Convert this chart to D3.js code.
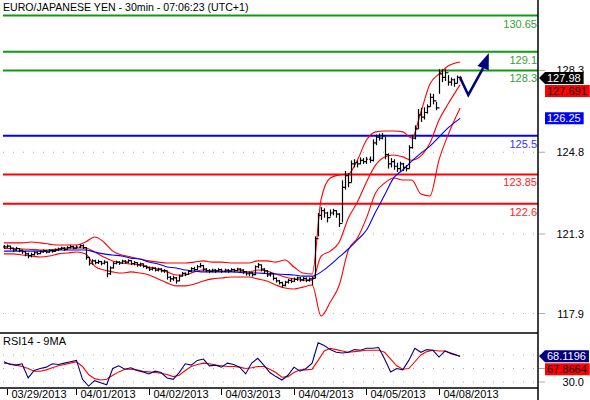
<!DOCTYPE html>
<html>
<head>
<meta charset="utf-8">
<title>EUR/JPY 30min</title>
<script src="https://cdn.jsdelivr.net/npm/d3@7/dist/d3.min.js"></script>
<style>
    body { margin: 0; background: #ffffff; }
    text { font-family: "Liberation Sans", Arial, sans-serif; font-size: 11px; }
</style>
</head>
<body>
<div id="chart"></div>
<script>
// hourly bars, last hour of 03/28 through 04/08 07:00 (index 0..151)
const barHigh = [120.83, 120.85, 120.80, 120.72, 120.75, 120.70, 120.64, 120.58, 120.50, 120.50,
    120.56, 120.55, 120.60, 120.64, 120.62, 120.66, 120.64, 120.68, 120.72, 120.76,
    120.74, 120.78, 120.84, 120.80, 120.82, 120.86, 120.86, 120.74, 120.32, 120.22,
    120.20, 120.20, 120.15, 120.18, 120.12, 119.92, 120.12, 120.16, 120.14, 120.20,
    120.18, 120.22, 120.18, 120.14, 120.10, 120.08, 120.04, 119.96, 119.90, 119.90,
    119.88, 119.86, 119.84, 119.80, 119.72, 119.50, 119.52, 119.46, 119.56, 119.68,
    119.66, 119.76, 119.88, 119.90, 119.98, 120.06, 119.98, 119.84, 119.80, 119.82,
    119.80, 119.84, 119.82, 119.82, 119.80, 119.84, 119.82, 119.86, 119.84, 119.80,
    119.72, 119.70, 119.68, 119.96, 120.06, 120.00, 119.84, 119.76, 119.68, 119.62,
    119.44, 119.34, 119.26, 119.30, 119.38, 119.40, 119.44, 119.48, 119.46, 119.46,
    119.44, 119.44, 119.48, 121.20, 122.20, 122.45, 122.40, 122.25, 122.35, 122.38,
    122.32, 122.20, 123.60, 124.00, 123.90, 124.45, 124.50, 124.45, 124.58, 124.55,
    124.60, 124.62, 125.35, 125.55, 125.60, 125.62, 125.45, 124.75, 124.55, 124.50,
    124.35, 124.40, 124.35, 124.25, 125.10, 125.55, 125.95, 126.65, 126.70, 126.72,
    126.85, 127.32, 127.30, 126.95, 128.35, 128.35, 128.35, 128.10, 128.00, 127.95,
    128.08, 128.05];
const barLow = [120.66, 120.70, 120.62, 120.55, 120.58, 120.52, 120.45, 120.35, 120.26, 120.30,
    120.38, 120.40, 120.44, 120.50, 120.47, 120.50, 120.50, 120.54, 120.58, 120.62,
    120.58, 120.62, 120.68, 120.64, 120.66, 120.70, 120.66, 120.20, 119.95, 119.98,
    120.00, 120.02, 119.96, 120.00, 119.45, 119.55, 119.82, 120.00, 119.98, 120.02,
    120.04, 120.04, 119.98, 119.96, 119.90, 119.90, 119.86, 119.80, 119.72, 119.74,
    119.70, 119.70, 119.66, 119.64, 119.35, 119.25, 119.30, 119.18, 119.28, 119.48,
    119.50, 119.55, 119.66, 119.70, 119.76, 119.86, 119.72, 119.66, 119.62, 119.66,
    119.64, 119.68, 119.64, 119.66, 119.64, 119.68, 119.66, 119.70, 119.68, 119.60,
    119.52, 119.50, 119.48, 119.54, 119.84, 119.70, 119.62, 119.46, 119.48, 119.32,
    119.22, 119.14, 119.02, 119.06, 119.18, 119.20, 119.24, 119.30, 119.26, 119.28,
    119.24, 119.26, 119.10, 119.40, 121.20, 121.90, 122.00, 121.80, 122.05, 122.10,
    122.00, 121.60, 121.80, 123.20, 123.30, 123.50, 124.15, 124.15, 124.28, 124.30,
    124.30, 124.35, 124.40, 125.10, 125.30, 125.35, 124.50, 124.10, 124.15, 124.05,
    123.95, 124.00, 124.00, 123.98, 124.10, 124.95, 125.35, 125.80, 126.10, 126.20,
    126.45, 126.75, 126.85, 126.60, 127.30, 127.80, 127.85, 127.65, 127.65, 127.60,
    127.75, 127.85];
const barClose = [120.75, 120.78, 120.70, 120.62, 120.68, 120.60, 120.55, 120.45, 120.38, 120.42,
    120.50, 120.46, 120.54, 120.58, 120.52, 120.60, 120.56, 120.62, 120.66, 120.70,
    120.64, 120.72, 120.76, 120.70, 120.74, 120.80, 120.72, 120.30, 120.05, 120.15,
    120.08, 120.12, 120.05, 120.10, 119.60, 119.85, 120.05, 120.10, 120.06, 120.14,
    120.10, 120.16, 120.04, 120.08, 119.98, 120.02, 119.92, 119.86, 119.80, 119.84,
    119.76, 119.80, 119.72, 119.74, 119.45, 119.38, 119.42, 119.30, 119.50, 119.62,
    119.58, 119.70, 119.82, 119.78, 119.90, 119.95, 119.80, 119.74, 119.70, 119.76,
    119.72, 119.78, 119.70, 119.76, 119.72, 119.78, 119.74, 119.80, 119.76, 119.68,
    119.60, 119.64, 119.56, 119.90, 119.98, 119.80, 119.72, 119.55, 119.60, 119.40,
    119.30, 119.22, 119.10, 119.24, 119.32, 119.28, 119.36, 119.42, 119.34, 119.40,
    119.32, 119.38, 119.40, 121.10, 122.10, 122.30, 122.20, 122.00, 122.20, 122.30,
    122.15, 121.75, 123.30, 123.80, 123.50, 124.30, 124.35, 124.30, 124.45, 124.40,
    124.50, 124.45, 125.20, 125.45, 125.40, 125.50, 124.70, 124.30, 124.40, 124.20,
    124.10, 124.30, 124.15, 124.10, 125.00, 125.40, 125.80, 126.40, 126.30, 126.50,
    126.75, 127.15, 127.00, 126.70, 128.15, 128.00, 128.20, 127.80, 127.90, 127.75,
    128.00, 127.98];

// bollinger bands and the blue moving average, read every 3 bars (+ last bar)
const bandUpper = [120.92, 120.92, 120.92, 120.96, 120.92, 120.87, 120.83, 120.83, 120.83, 120.96,
    121.17, 120.96, 120.57, 120.40, 120.32, 120.23, 120.15, 120.10, 120.06, 120.06,
    120.06, 120.10, 120.15, 120.10, 120.10, 120.06, 120.06, 120.06, 120.15, 120.15,
    120.10, 120.19, 119.89, 119.63, 119.59, 122.80, 123.70, 123.83, 123.87, 124.47,
    125.32, 125.67, 125.71, 125.71, 125.67, 125.41, 126.52, 127.72, 128.15, 128.49,
    128.66];
const bandMid = [120.68, 120.68, 120.66, 120.64, 120.62, 120.62, 120.66, 120.70, 120.70, 120.70,
    120.53, 120.32, 120.15, 120.06, 120.02, 119.98, 119.89, 119.80, 119.68, 119.55,
    119.55, 119.68, 119.76, 119.72, 119.72, 119.72, 119.72, 119.68, 119.76, 119.72,
    119.59, 119.46, 119.38, 119.33, 119.33, 120.36, 120.57, 120.96, 121.99, 122.67,
    123.53, 124.25, 124.60, 124.68, 124.60, 124.46, 124.64, 125.19, 126.18, 126.86,
    127.691];
const bandLower = [120.45, 120.45, 120.40, 120.36, 120.32, 120.36, 120.45, 120.49, 120.53, 120.45,
    119.93, 119.76, 119.68, 119.63, 119.68, 119.63, 119.55, 119.38, 119.21, 119.08,
    119.08, 119.16, 119.29, 119.38, 119.42, 119.46, 119.46, 119.46, 119.38, 119.29,
    119.12, 118.99, 118.95, 119.03, 119.12, 117.79, 118.39, 119.12, 120.62, 121.13,
    121.99, 123.06, 123.48, 123.70, 123.61, 123.61, 123.01, 122.93, 124.47, 125.54,
    126.69];
const maLine = [120.57, 120.57, 120.57, 120.57, 120.57, 120.57, 120.62, 120.62, 120.62, 120.62,
    120.53, 120.45, 120.40, 120.36, 120.27, 120.23, 120.10, 120.02, 119.89, 119.85,
    119.76, 119.72, 119.68, 119.68, 119.68, 119.68, 119.66, 119.63, 119.63, 119.61,
    119.59, 119.57, 119.55, 119.50, 119.50, 119.68, 119.98, 120.32, 120.66, 121.05,
    121.47, 122.24, 122.97, 123.70, 124.04, 124.42, 124.76, 125.06, 125.45, 125.84,
    126.25];

// RSI14 and its 9MA, read every 2 bars (+ last bar)
const rsiLine = [60, 56, 55, 57, 36, 47, 50, 52, 57, 56,
    58, 60, 62, 34, 24, 32, 29, 26, 50, 54,
    49, 51, 47, 45, 42, 46, 44, 36, 34, 44,
    57, 55, 62, 64, 54, 55, 52, 58, 56, 52,
    42, 58, 65, 55, 44, 38, 33, 40, 52, 46,
    50, 58, 88, 84, 78, 74, 73, 74, 78, 77,
    80, 80, 81, 64, 45, 50, 48, 62, 80, 74,
    78, 77, 67, 76, 72, 68.1196];
const rsiMa = [58, 57, 55, 53, 50, 46, 46, 48, 51, 54,
    56, 58, 60, 53, 41, 35, 33, 34, 40, 45,
    49, 49, 48, 46, 45, 44, 43, 41, 38, 40,
    47, 53, 56, 58, 57, 55, 54, 53, 53, 52,
    50, 51, 53, 53, 49, 44, 37, 38, 44, 48,
    48, 49, 62, 76, 80, 78, 76, 74, 75, 76,
    77, 77, 77, 74, 64, 54, 49, 50, 60, 70,
    75, 77, 76, 76, 73, 67.8664];

const dayLabels = ["03/29/2013", "04/01/2013", "04/02/2013", "04/03/2013", "04/04/2013", "04/05/2013", "04/08/2013"];
const dayStarts = [1, 24, 48, 72, 96, 120, 144];

const levelValues = [130.65, 129.1, 128.3, 125.5, 123.85, 122.6];
const levelLabels = ["130.65", "129.1", "128.3", "125.5", "123.85", "122.6"];
const levelKinds = ["target", "target", "target", "pivot", "support", "support"];

const priceTicks = [128.3, 124.8, 121.3, 117.9];
const rsiTicks = [70, 50, 30];

// drawn forecast arrow, as (bar index, price)
const arrowIdx = [151, 153.7, 158.6, 160.5];
const arrowVal = [127.98, 127.25, 128.40, 129.05];

const width = 590, height = 400;
const plotLeft = 3, plotRight = 538;
const mainBottom = 333, rsiBottom = 388;

let svg = d3.select("#chart").append("svg").attr("width", width).attr("height", height);

let x = d3.scaleLinear().domain([1, 144]).range([7, 439]);
let y = d3.scaleLinear().domain([117.9, 130.65]).range([313.5, 15.5]);
let yr = d3.scaleLinear().domain([30, 70]).range([382, 355]);

const bandIdx = d3.range(0, 148, 3).concat([151]);
const rsiIdx = d3.range(0, 150, 2).concat([151]);

let defs = svg.append("defs");
defs.append("clipPath").attr("id", "clipMain").append("rect")
    .attr("x", 0).attr("y", 0).attr("width", plotRight).attr("height", mainBottom);
defs.append("clipPath").attr("id", "clipRsi").append("rect")
    .attr("x", 0).attr("y", mainBottom).attr("width", plotRight).attr("height", rsiBottom - mainBottom);

// dotted grid
svg.append("g").selectAll("line").data(priceTicks).enter().append("line")
    .attr("x1", plotLeft).attr("x2", plotRight)
    .attr("y1", d => y(d)).attr("y2", d => y(d))
    .attr("stroke", "#aaaaaa").attr("stroke-dasharray", "1,9");
svg.append("g").selectAll("line").data(rsiTicks).enter().append("line")
    .attr("x1", plotLeft).attr("x2", plotRight)
    .attr("y1", d => yr(d)).attr("y2", d => yr(d))
    .attr("stroke", "#aaaaaa").attr("stroke-dasharray", "1,9");

// horizontal levels
const kindColor = { target: "#119911", pivot: "#0000ff", support: "#ff0000" };
const kindText = { target: "#33a033", pivot: "#3333ff", support: "#ff2222" };
let levels = svg.append("g");
levelValues.forEach((v, k) => {
    levels.append("line")
        .attr("x1", plotLeft).attr("x2", plotRight)
        .attr("y1", y(v)).attr("y2", y(v))
        .attr("stroke", kindColor[levelKinds[k]]).attr("stroke-width", 2);
    levels.append("text")
        .attr("x", plotRight - 1).attr("y", y(v) + 12)
        .attr("text-anchor", "end")
        .attr("fill", kindText[levelKinds[k]])
        .text(levelLabels[k]);
});

// bands and moving average
let main = svg.append("g").attr("clip-path", "url(#clipMain)");
let smooth = d3.line().x(d => x(d[0])).y(d => y(d[1])).curve(d3.curveMonotoneX);
[bandUpper, bandMid, bandLower].forEach(band => {
    main.append("path")
        .attr("d", smooth(bandIdx.map((i, k) => [i, band[k]])))
        .attr("fill", "none").attr("stroke", "#ff0000").attr("stroke-width", 1.1);
});
main.append("path")
    .attr("d", smooth(bandIdx.map((i, k) => [i, maLine[k]])))
    .attr("fill", "none").attr("stroke", "#0000ff").attr("stroke-width", 1.1);

// price bars
let bars = main.append("g").attr("stroke", "#000000").attr("stroke-width", 1.2);
barClose.forEach((c, i) => {
    let open = i == 0 ? c : barClose[i - 1];
    let bx = Math.round(x(i)) + 0.5;
    bars.append("line").attr("x1", bx).attr("x2", bx)
        .attr("y1", y(barHigh[i])).attr("y2", y(barLow[i]));
    bars.append("line").attr("x1", bx - 1.5).attr("x2", bx)
        .attr("y1", y(open)).attr("y2", y(open));
    bars.append("line").attr("x1", bx).attr("x2", bx + 1.5)
        .attr("y1", y(c)).attr("y2", y(c));
});

// forecast arrow
let arrowPts = arrowIdx.map((i, k) => [x(i), y(arrowVal[k])]);
svg.append("path")
    .attr("d", d3.line()(arrowPts.slice(0, 3)))
    .attr("fill", "none").attr("stroke", "#000080").attr("stroke-width", 2.5)
    .attr("stroke-linejoin", "miter");
let base = arrowPts[2], tip = arrowPts[3];
let len = Math.hypot(tip[0] - base[0], tip[1] - base[1]);
let px = -(tip[1] - base[1]) / len * 6, py = (tip[0] - base[0]) / len * 6;
svg.append("path")
    .attr("d", d3.line()([tip, [base[0] + px, base[1] + py], [base[0] - px, base[1] - py]]) + "Z")
    .attr("fill", "#000080");

// RSI panel
let rsiG = svg.append("g").attr("clip-path", "url(#clipRsi)");
let rsiPath = d3.line().x(d => x(d[0])).y(d => yr(d[1]));
rsiG.append("path")
    .attr("d", rsiPath(rsiIdx.map((i, k) => [i, rsiMa[k]])))
    .attr("fill", "none").attr("stroke", "#ff0000").attr("stroke-width", 1.1);
rsiG.append("path")
    .attr("d", rsiPath(rsiIdx.map((i, k) => [i, rsiLine[k]])))
    .attr("fill", "none").attr("stroke", "#000080").attr("stroke-width", 1.1);

// frame
svg.append("line").attr("x1", 0).attr("x2", plotRight).attr("y1", mainBottom).attr("y2", mainBottom)
    .attr("stroke", "#000").attr("stroke-width", 1.5);
svg.append("line").attr("x1", 0).attr("x2", plotRight).attr("y1", rsiBottom).attr("y2", rsiBottom)
    .attr("stroke", "#000").attr("stroke-width", 1.5);
svg.append("line").attr("x1", plotRight).attr("x2", plotRight).attr("y1", 0).attr("y2", height)
    .attr("stroke", "#000").attr("stroke-width", 1.5);

// date axis
let axisB = svg.append("g");
dayStarts.forEach((i, k) => {
    let tx = Math.round(x(i)) + 0.5;
    axisB.append("line").attr("x1", tx).attr("x2", tx).attr("y1", rsiBottom + 1).attr("y2", rsiBottom + 7)
        .attr("stroke", "#000");
    axisB.append("text").attr("x", tx + 4).attr("y", 398).text(dayLabels[k]);
});

// titles
svg.append("text").attr("x", 3).attr("y", 11).style("font-size", "10.6px")
    .text("EURO/JAPANESE YEN - 30min - 07:06:23 (UTC+1)");
svg.append("text").attr("x", 3).attr("y", 345).text("RSI14 - 9MA");

// last-value boxes on the right: work out where they sit first
function placeBoxes(items, scale) {
    let placed = items.map(d => Object.assign({}, d, { cy: scale(d.value) }));
    for (let k = 1; k < placed.length; k++) {
        if (placed[k].cy - placed[k - 1].cy < 13) placed[k].cy = placed[k - 1].cy + 13;
    }
    return placed;
}

let mainBoxes = placeBoxes([
    { value: barClose[barClose.length - 1], fill: "#000000", ink: "#ffffff", arrow: true },
    { value: bandMid[bandMid.length - 1], fill: "#ff0000", ink: "#000000", arrow: false },
    { value: maLine[maLine.length - 1], fill: "#0000ff", ink: "#ffffff", arrow: false }
], y);
let rsiBoxes = placeBoxes([
    { value: rsiLine[rsiLine.length - 1], fill: "#000080", ink: "#ffffff", arrow: true },
    { value: rsiMa[rsiMa.length - 1], fill: "#ff0000", ink: "#000000", arrow: false }
], yr);

// right axis ticks; a label that a value box sits right on top of is left out
let axisR = svg.append("g");
function rightTicks(ticks, scale, boxes) {
    ticks.forEach(v => {
        let ty = scale(v);
        axisR.append("line").attr("x1", plotRight + 1).attr("x2", plotRight + 7)
            .attr("y1", ty).attr("y2", ty).attr("stroke", "#aaaaaa");
        if (boxes.some(b => Math.abs(b.cy - ty) < 6)) return;
        axisR.append("text").attr("x", 584).attr("y", ty + 4)
            .attr("text-anchor", "end").text(v.toFixed(1));
    });
}
rightTicks(priceTicks, y, mainBoxes);
rightTicks(rsiTicks, yr, rsiBoxes);

function drawBoxes(placed) {
    placed.forEach(d => {
        let g = svg.append("g");
        let shape = g.append("path").attr("fill", d.fill);
        let t = g.append("text").attr("x", 547).attr("y", d.cy + 4)
            .attr("fill", d.ink).text(String(d.value));
        let right = 547 + t.node().getComputedTextLength() + 3;
        let top = d.cy - 6, bottom = d.cy + 6;
        let pts = d.arrow
            ? [[plotRight + 1, d.cy], [545, top], [right, top], [right, bottom], [545, bottom]]
            : [[545, top], [right, top], [right, bottom], [545, bottom]];
        shape.attr("d", d3.line()(pts) + "Z");
    });
}
drawBoxes(mainBoxes);
drawBoxes(rsiBoxes);
</script>
</body>
</html>
